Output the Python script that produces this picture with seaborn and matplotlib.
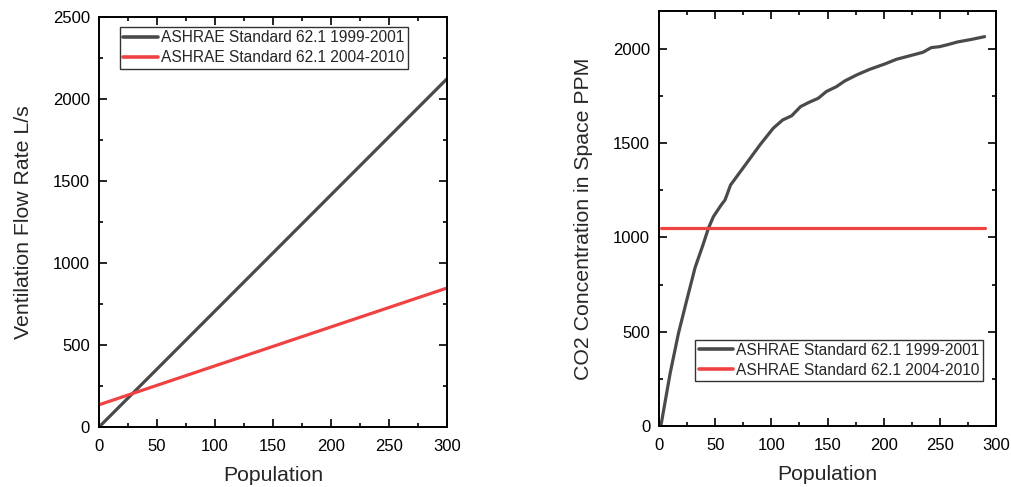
"""Ventilation flow rate and CO2 concentration vs population."""

import matplotlib
matplotlib.use("Agg")
import matplotlib.pyplot as plt
import pandas as pd
import seaborn as sns
from matplotlib.ticker import MultipleLocator

sns.set_style("ticks")
plt.rcParams["font.family"] = ["Liberation Sans", "DejaVu Sans"]

# Left panel: ventilation flow rate (L/s)
vent_pop = [0, 300]
vent_1999 = [0, 2124]
vent_2004 = [136, 848]

# Right panel: CO2 concentration in space (PPM)
co2_pop = [1.5, 9.8, 17.2, 24.6, 32, 39, 43.9, 48.3, 55, 58.7, 63.6, 70, 77.8,
           89.7, 101.6, 110, 118, 126, 134, 141.7, 149, 158, 165.4, 176,
           187.7, 201, 211.5, 223, 235, 242.5, 250, 258, 266, 278, 290]
co2_1999 = [0, 280, 492, 668, 840, 960, 1049, 1110, 1170, 1199, 1278, 1330,
            1393, 1490, 1579, 1623, 1645, 1694, 1718, 1738, 1774, 1800, 1830,
            1862, 1892, 1920, 1945, 1963, 1982, 2007, 2012, 2024, 2037, 2050,
            2065]
co2_2004 = [1050] * len(co2_pop)

labels = ["ASHRAE Standard 62.1 1999-2001", "ASHRAE Standard 62.1 2004-2010"]
palette = {labels[0]: "#4a4a4a", labels[1]: "#ef4343"}

vent_df = pd.DataFrame({
    "Population": vent_pop * 2,
    "value": vent_1999 + vent_2004,
    "series": [labels[0]] * len(vent_pop) + [labels[1]] * len(vent_pop),
})
co2_df = pd.DataFrame({
    "Population": co2_pop * 2,
    "value": co2_1999 + co2_2004,
    "series": [labels[0]] * len(co2_pop) + [labels[1]] * len(co2_pop),
})

fig = plt.figure(figsize=(10.11, 4.87), dpi=100)
ax1 = fig.add_axes([0.0979, 0.123, 0.3443, 0.842])
ax2 = fig.add_axes([0.652, 0.1253, 0.333, 0.8517])

for ax, df in [(ax1, vent_df), (ax2, co2_df)]:
    sns.lineplot(data=df, x="Population", y="value", hue="series",
                 palette=palette, linewidth=2.3, ax=ax, legend=True)

ax1.set_xlim(0, 300)
ax1.set_ylim(0, 2500)
ax1.yaxis.set_major_locator(MultipleLocator(500))
ax1.yaxis.set_minor_locator(MultipleLocator(250))
ax1.set_ylabel("Ventilation Flow Rate L/s", fontsize=15.3, labelpad=14.5)

ax2.set_xlim(0, 300)
ax2.set_ylim(0, 2200)
ax2.yaxis.set_major_locator(MultipleLocator(500))
ax2.yaxis.set_minor_locator(MultipleLocator(250))
ax2.set_ylabel("CO2 Concentration in Space PPM", fontsize=15.3, labelpad=14.5)

for ax in (ax1, ax2):
    ax.xaxis.set_major_locator(MultipleLocator(50))
    ax.xaxis.set_minor_locator(MultipleLocator(25))
    ax.set_xlabel("Population", fontsize=15.3, labelpad=9)
    ax.tick_params(which="both", direction="in", top=True, right=True,
                   width=1.2, colors="black", labelsize=12)
    ax.tick_params(which="major", length=6)
    ax.tick_params(axis="x", which="major", pad=8.5)
    ax.tick_params(axis="y", which="major", pad=6.5)
    ax.tick_params(which="minor", length=3)
    for side in ax.spines.values():
        side.set_linewidth(1.4)
        side.set_color("black")

leg_kw = dict(fontsize=11.2, frameon=True, fancybox=False, edgecolor="black",
              handlelength=2.2, handletextpad=0.2, borderpad=0.22,
              borderaxespad=0, labelspacing=0.3, title=None)
leg1 = ax1.legend(loc="upper left", bbox_to_anchor=(0.0604, 0.9756), **leg_kw)
leg2 = ax2.legend(loc="lower right", bbox_to_anchor=(0.9614, 0.1084), **leg_kw)
for leg in (leg1, leg2):
    leg.get_frame().set_linewidth(1.0)
    for line in leg.get_lines():
        line.set_linewidth(2.6)

fig.savefig("out.png", dpi=100)
plt.close(fig)
